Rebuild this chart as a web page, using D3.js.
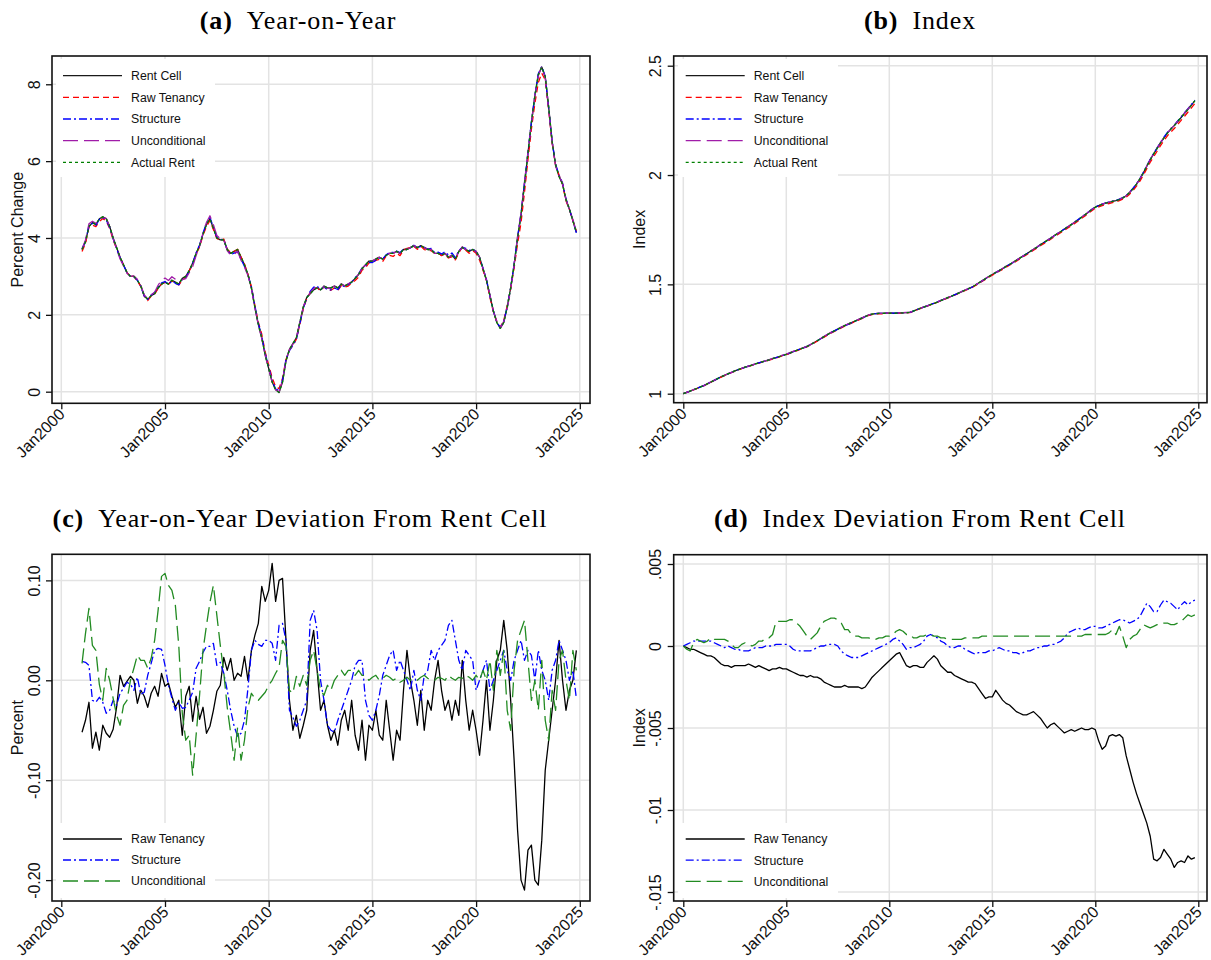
<!DOCTYPE html>
<html>
<head>
<meta charset="utf-8">
<script src="https://cdn.jsdelivr.net/npm/d3@7"></script>
<style>
  body { margin: 0; background: #fff; }
  svg { display: block; }
</style>
</head>
<body>
<div class="viewbox"></div>
<script>
// ---- data (one value every two months) ----
const yoyStart = 2001;   // Jan 2001
const idxStart = 2000;   // Jan 2000

// Rent Cell year-on-year, percent
const rentCellYoY = [
  3.70, 3.90, 4.30, 4.40, 4.35, 4.50,
  4.55, 4.50, 4.30, 4.00, 3.75, 3.50,
  3.30, 3.10, 3.00, 3.00, 2.90, 2.75,
  2.50, 2.40, 2.50, 2.55, 2.70, 2.80,
  2.85, 2.80, 2.90, 2.85, 2.80, 2.95,
  3.00, 3.15, 3.35, 3.60, 3.80, 4.10,
  4.35, 4.50, 4.25, 4.00, 3.95, 3.95,
  3.70, 3.60, 3.65, 3.70, 3.50, 3.30,
  3.05, 2.70, 2.20, 1.75, 1.40, 0.95,
  0.60, 0.25, 0.05, -0.02, 0.25, 0.80,
  1.10, 1.25, 1.40, 1.80, 2.20, 2.45,
  2.55, 2.65, 2.70, 2.65, 2.75, 2.70,
  2.70, 2.75, 2.70, 2.80, 2.75, 2.80,
  2.85, 2.95, 3.05, 3.20, 3.30, 3.40,
  3.40, 3.45, 3.50, 3.45, 3.55, 3.60,
  3.60, 3.65, 3.60, 3.70, 3.70, 3.75,
  3.80, 3.75, 3.80, 3.75, 3.70, 3.70,
  3.60, 3.60, 3.55, 3.60, 3.50, 3.55,
  3.45, 3.65, 3.75, 3.70, 3.65, 3.70,
  3.65, 3.50, 3.20, 2.90, 2.50, 2.10,
  1.80, 1.65, 1.80, 2.20, 2.70, 3.30,
  4.00, 4.60, 5.40, 6.20, 7.00, 7.70,
  8.25, 8.45, 8.20, 7.40, 6.50, 5.90,
  5.60, 5.40, 5.00, 4.75, 4.45, 4.15
];

// year-on-year deviation from Rent Cell, percentage points
const rawTenancyYoYDev = [
  -0.052, -0.040, -0.022, -0.068, -0.052, -0.070,
  -0.045, -0.053, -0.057, -0.049, -0.027, 0.005,
  -0.006, -0.001, 0.004, 0.000, -0.023, -0.010,
  -0.016, -0.027, -0.013, -0.006, -0.016, 0.007,
  -0.006, -0.003, -0.016, -0.027, -0.020, -0.055,
  -0.016, -0.006, -0.041, -0.016, -0.039, -0.027,
  -0.053, -0.046, -0.030, -0.011, -0.005, 0.023,
  0.010, 0.022, 0.000, 0.007, 0.004, 0.024,
  0.000, 0.030, 0.045, 0.057, 0.094, 0.079,
  0.090, 0.117, 0.079, 0.100, 0.102, 0.040,
  -0.020, -0.050, -0.035, -0.058, -0.045, -0.030,
  0.030, 0.050, 0.010, -0.030, -0.020, -0.045,
  -0.060, -0.050, -0.065, -0.040, -0.030, -0.050,
  -0.020, -0.055, -0.070, -0.040, -0.080, -0.045,
  -0.050, -0.030, -0.055, -0.060, -0.020, -0.050,
  -0.080, -0.050, -0.060, -0.010, 0.030, 0.000,
  -0.020, -0.045, -0.010, -0.050, -0.020, -0.030,
  0.000, 0.020, -0.010, -0.030, -0.020, -0.040,
  -0.020, -0.035, 0.020, -0.020, -0.050, -0.030,
  -0.050, -0.075, -0.040, 0.000, -0.050, -0.020,
  0.020, 0.030, 0.060, 0.030, -0.020, -0.080,
  -0.150, -0.200, -0.210, -0.170, -0.165, -0.200,
  -0.205, -0.160, -0.090, -0.060, -0.030, 0.000,
  0.040, 0.000, -0.030, -0.010, 0.000, 0.030
];
const structureYoYDev = [
  0.019, 0.018, 0.015, -0.020, -0.022, -0.017,
  -0.022, -0.033, -0.030, -0.020, -0.025, -0.013,
  -0.008, -0.002, -0.004, -0.010, 0.003, -0.014,
  -0.012, 0.005, 0.017, 0.030, 0.032, 0.031,
  0.015, -0.005, -0.018, -0.030, -0.022, -0.028,
  -0.027, -0.020, -0.012, 0.012, 0.019, 0.028,
  0.034, 0.034, 0.037, 0.015, 0.018, 0.007,
  -0.010, -0.030, -0.046, -0.056, -0.053, -0.040,
  -0.008, 0.030, 0.040, 0.036, 0.034, 0.040,
  0.040, 0.037, 0.020, 0.055, 0.057, 0.040,
  -0.030, -0.037, -0.046, -0.040, -0.030, -0.020,
  0.060, 0.070, 0.050, 0.000, -0.020, -0.045,
  -0.050, -0.052, -0.040, -0.030, -0.020, -0.010,
  0.000, 0.015, 0.020, 0.020, -0.020, -0.035,
  -0.040, -0.030, -0.015, 0.005, 0.015, 0.025,
  0.030, 0.010, 0.020, 0.010, 0.000, -0.010,
  0.010, -0.010, -0.020, 0.005, 0.010, 0.030,
  0.020, 0.030, 0.035, 0.040, 0.055, 0.060,
  0.040, 0.020, 0.010, 0.030, 0.025, 0.020,
  -0.010, 0.000, 0.010, 0.020, -0.010, 0.000,
  0.010, 0.020, 0.030, 0.010, 0.000, 0.020,
  0.030, 0.040, 0.020, 0.030, 0.025, 0.000,
  0.030, 0.010, 0.000, -0.020, 0.010, 0.020,
  0.040, 0.030, 0.020, 0.000, 0.010, -0.018
];
const unconditionalYoYDev = [
  0.017, 0.047, 0.072, 0.035, 0.030, -0.004,
  -0.020, 0.012, 0.000, -0.018, -0.035, -0.045,
  -0.025, -0.020, 0.000, 0.012, 0.025, 0.020,
  0.020, 0.012, 0.022, 0.040, 0.070, 0.104,
  0.107, 0.095, 0.090, 0.075, 0.034, -0.033,
  -0.060, -0.055, -0.095, -0.055, -0.015, 0.030,
  0.055, 0.078, 0.095, 0.065, 0.035, 0.008,
  -0.027, -0.053, -0.080, -0.047, -0.080, -0.060,
  -0.027, -0.013, -0.018, -0.020, -0.016, -0.012,
  -0.005, 0.000, 0.007, 0.013, 0.040, 0.034,
  -0.010, -0.013, 0.004, -0.006, 0.005, -0.005,
  0.020, 0.030, 0.010, -0.010, -0.015, -0.005,
  -0.010, 0.000, 0.005, 0.010, 0.005, 0.010,
  0.010, 0.005, 0.010, 0.005, 0.005, 0.000,
  0.003, 0.005, 0.000, 0.002, 0.005, 0.003,
  0.000, 0.002, -0.002, 0.000, 0.003, 0.000,
  0.002, 0.000, 0.003, 0.005, 0.002, 0.000,
  0.000, 0.003, 0.002, 0.000, 0.005, 0.002,
  0.000, 0.003, 0.002, 0.005, 0.003, 0.000,
  0.005, 0.000, 0.010, 0.000, 0.020, -0.010,
  0.030, 0.005, 0.030, -0.030, -0.050, 0.010,
  0.040, 0.050, 0.060, 0.020, -0.020, 0.000,
  -0.030, 0.020, -0.040, -0.060, -0.010, -0.030,
  0.020, 0.030, 0.000, -0.020, 0.030, 0.010
];

// Rent Cell index, Jan 2000 = 1
const rentCellIndex = [
  1.000, 1.006, 1.012, 1.018, 1.024, 1.031,
  1.037, 1.045, 1.053, 1.061, 1.069, 1.077,
  1.084, 1.091, 1.097, 1.104, 1.110, 1.116,
  1.121, 1.126, 1.131, 1.136, 1.141, 1.146,
  1.150, 1.155, 1.160, 1.165, 1.170, 1.175,
  1.180, 1.186, 1.192, 1.198, 1.204, 1.210,
  1.216, 1.224, 1.233, 1.242, 1.251, 1.261,
  1.270, 1.279, 1.287, 1.295, 1.303, 1.311,
  1.318, 1.325, 1.332, 1.339, 1.346, 1.353,
  1.360, 1.364, 1.366, 1.367, 1.367, 1.368,
  1.368, 1.368, 1.368, 1.369, 1.370, 1.371,
  1.372, 1.378, 1.384, 1.390, 1.396, 1.401,
  1.407, 1.413, 1.419, 1.426, 1.432, 1.439,
  1.445, 1.452, 1.459, 1.466, 1.473, 1.480,
  1.487, 1.496, 1.506, 1.516, 1.526, 1.536,
  1.545, 1.554, 1.563, 1.572, 1.582, 1.591,
  1.600, 1.610, 1.620, 1.630, 1.640, 1.650,
  1.660, 1.670, 1.681, 1.691, 1.701, 1.711,
  1.722, 1.732, 1.742, 1.753, 1.763, 1.773,
  1.784, 1.795, 1.807, 1.818, 1.830, 1.842,
  1.853, 1.860, 1.866, 1.871, 1.875, 1.879,
  1.883, 1.888, 1.895, 1.905, 1.920, 1.938,
  1.958, 1.982, 2.010, 2.040, 2.070, 2.097,
  2.122, 2.147, 2.170, 2.192, 2.210, 2.226,
  2.245, 2.263, 2.282, 2.301, 2.320, 2.340
];

// index deviation from Rent Cell
const rawTenancyIdxDev = [
  0.0000, -0.0001, -0.0002, -0.0002, -0.0003, -0.0004,
  -0.0005, -0.0006, -0.0006, -0.0007, -0.0009, -0.0011,
  -0.0012, -0.0012, -0.0013, -0.0012, -0.0012, -0.0012,
  -0.0012, -0.0011, -0.0012, -0.0013, -0.0012, -0.0013,
  -0.0014, -0.0015, -0.0014, -0.0014, -0.0013, -0.0014,
  -0.0014, -0.0015, -0.0016, -0.0017, -0.0018, -0.0018,
  -0.0019, -0.0018, -0.0019, -0.0019, -0.0020, -0.0022,
  -0.0023, -0.0024, -0.0025, -0.0025, -0.0025, -0.0024,
  -0.0025, -0.0025, -0.0025, -0.0025, -0.0026, -0.0025,
  -0.0022, -0.0019, -0.0017, -0.0015, -0.0013, -0.0011,
  -0.0009, -0.0007, -0.0005, -0.0004, -0.0008, -0.0012,
  -0.0013, -0.0012, -0.0012, -0.0013, -0.0013, -0.0010,
  -0.0008, -0.0006, -0.0008, -0.0012, -0.0014, -0.0016,
  -0.0016, -0.0018, -0.0019, -0.0020, -0.0021, -0.0022,
  -0.0022, -0.0023, -0.0026, -0.0029, -0.0032, -0.0031,
  -0.0031, -0.0027, -0.0030, -0.0033, -0.0035, -0.0036,
  -0.0038, -0.0040, -0.0041, -0.0042, -0.0042, -0.0041,
  -0.0040, -0.0042, -0.0044, -0.0047, -0.0050, -0.0048,
  -0.0047, -0.0049, -0.0051, -0.0053, -0.0052, -0.0051,
  -0.0052, -0.0051, -0.0050, -0.0051, -0.0051, -0.0050,
  -0.0051, -0.0058, -0.0063, -0.0061, -0.0055, -0.0054,
  -0.0055, -0.0054, -0.0056, -0.0067, -0.0075, -0.0083,
  -0.0090, -0.0096, -0.0102, -0.0108, -0.0116, -0.0130,
  -0.0131, -0.0129, -0.0124, -0.0127, -0.0130, -0.0135,
  -0.0132, -0.0131, -0.0132, -0.0128, -0.0130, -0.0129
];
const structureIdxDev = [
  0.0000, 0.0001, 0.0002, 0.0003, 0.0003, 0.0003,
  0.0003, 0.0003, 0.0003, 0.0002, 0.0001, 0.0000,
  -0.0001, 0.0000, -0.0001, -0.0002, -0.0002, -0.0003,
  -0.0003, -0.0003, -0.0002, -0.0001, -0.0001, -0.0001,
  0.0000, 0.0000, 0.0000, 0.0001, 0.0001, 0.0001,
  0.0001, 0.0000, -0.0002, -0.0003, -0.0003, -0.0003,
  -0.0003, -0.0003, -0.0002, -0.0001, 0.0000, 0.0000,
  0.0001, 0.0001, 0.0001, 0.0000, -0.0003, -0.0005,
  -0.0006, -0.0007, -0.0007, -0.0007, -0.0006, -0.0005,
  -0.0004, -0.0003, -0.0002, -0.0001, 0.0000, 0.0001,
  0.0002, 0.0004, 0.0005, 0.0003, 0.0001, -0.0002,
  -0.0001, -0.0001, 0.0000, 0.0001, 0.0003, 0.0006,
  0.0007, 0.0006, 0.0005, 0.0003, 0.0002, 0.0000,
  -0.0001, -0.0001, 0.0000, 0.0000, -0.0002, -0.0003,
  -0.0004, -0.0005, -0.0004, -0.0004, -0.0004, -0.0003,
  -0.0003, -0.0002, -0.0001, -0.0002, -0.0003, -0.0003,
  -0.0004, -0.0004, -0.0005, -0.0004, -0.0003, -0.0003,
  -0.0002, -0.0001, -0.0001, 0.0000, 0.0000, 0.0001,
  0.0001, 0.0002, 0.0003, 0.0005, 0.0008, 0.0009,
  0.0010, 0.0011, 0.0010, 0.0010, 0.0011, 0.0012,
  0.0012, 0.0011, 0.0011, 0.0012, 0.0013, 0.0014,
  0.0015, 0.0016, 0.0016, 0.0015, 0.0014, 0.0015,
  0.0016, 0.0018, 0.0022, 0.0026, 0.0024, 0.0021,
  0.0021, 0.0025, 0.0028, 0.0027, 0.0026, 0.0024,
  0.0022, 0.0025, 0.0027, 0.0025, 0.0027, 0.0028
];
const unconditionalIdxDev = [
  0.0000, -0.0002, -0.0003, 0.0002, 0.0004, 0.0003,
  0.0002, 0.0003, 0.0005, 0.0004, 0.0004, 0.0004,
  0.0004, 0.0003, 0.0001, -0.0001, -0.0001, 0.0001,
  0.0002, 0.0001, 0.0000, 0.0001, 0.0003, 0.0003,
  0.0005, 0.0005, 0.0007, 0.0015, 0.0015, 0.0015,
  0.0015, 0.0016, 0.0016, 0.0014, 0.0012, 0.0009,
  0.0006, 0.0004, 0.0006, 0.0008, 0.0012, 0.0015,
  0.0016, 0.0017, 0.0017, 0.0016, 0.0014, 0.0010,
  0.0010, 0.0007, 0.0006, 0.0006, 0.0005, 0.0005,
  0.0005, 0.0004, 0.0004, 0.0005, 0.0005, 0.0006,
  0.0006, 0.0007, 0.0009, 0.0010, 0.0009, 0.0007,
  0.0007, 0.0005, 0.0005, 0.0006, 0.0006, 0.0007,
  0.0007, 0.0006, 0.0006, 0.0005, 0.0005, 0.0004,
  0.0004, 0.0004, 0.0004, 0.0004, 0.0005, 0.0005,
  0.0005, 0.0005, 0.0005, 0.0006, 0.0006, 0.0006,
  0.0006, 0.0006, 0.0006, 0.0006, 0.0006, 0.0006,
  0.0006, 0.0006, 0.0006, 0.0006, 0.0006, 0.0006,
  0.0006, 0.0006, 0.0006, 0.0006, 0.0006, 0.0006,
  0.0006, 0.0006, 0.0006, 0.0006, 0.0006, 0.0006,
  0.0006, 0.0006, 0.0006, 0.0007, 0.0007, 0.0007,
  0.0007, 0.0007, 0.0007, 0.0007, 0.0008, 0.0010,
  0.0007, 0.0012, 0.0006, -0.0001, 0.0004, 0.0006,
  0.0007, 0.0010, 0.0013, 0.0012, 0.0011, 0.0012,
  0.0013, 0.0013, 0.0014, 0.0014, 0.0013, 0.0013,
  0.0014, 0.0015, 0.0017, 0.0019, 0.0018, 0.0019
];

// tick values
const xTicks = [2000, 2005, 2010, 2015, 2020, 2025];
const yTicksA = [0, 2, 4, 6, 8];
const yTicksB = [1, 1.5, 2, 2.5];
const yTicksC = [-0.2, -0.1, 0, 0.1];
const yTicksD = [-0.015, -0.01, -0.005, 0, 0.005];

// ---- helpers ----
const toPoints = (arr, start) => arr.map((v, i) => ({ t: start + i / 6, v: v }));
const addDev = (base, dev) => base.map((v, i) => v + dev[i]);

const STYLE = {
  rent:   { color: "#1a1a1a", dash: null },
  raw:    { color: "#ff0000", dash: "6,4" },
  struct: { color: "#0000ff", dash: "8,3,2,3" },
  uncond: { color: "#a01ca8", dash: "15,6" },
  actual: { color: "#008000", dash: "3,3" },
  rawDev: { color: "#000000", dash: null },
  uncDev: { color: "#228b22", dash: "15,6" }
};

const svg = d3.select(".viewbox")
  .append("svg")
  .attr("width", 1211)
  .attr("height", 960);

const fmtNum = {
  a: d => d3.format("d")(d),
  b: d => String(d),
  c: d => d3.format(".2f")(d).replace("−", "-"),
  d: d => d === 0 ? "0" : String(d).replace("0.", ".")
};

function drawPanel(p) {
  const x = d3.scaleLinear()
    .domain([2000 - (p.x2000 - p.left) / p.pxYear, 2000 + (p.right - p.x2000) / p.pxYear])
    .range([p.left, p.right]);
  const y = d3.scaleLinear()
    .domain([p.yBottom, p.yTop])
    .range([p.bottom, p.top]);

  const g = svg.append("g");

  // grid
  g.selectAll("line.hgrid")
    .data(p.yTicks)
    .enter().append("line")
    .attr("x1", p.left).attr("x2", p.right)
    .attr("y1", d => y(d)).attr("y2", d => y(d))
    .attr("stroke", "#e3e3e3").attr("stroke-width", 1.5);
  g.selectAll("line.vgrid")
    .data(xTicks)
    .enter().append("line")
    .attr("x1", d => x(d)).attr("x2", d => x(d))
    .attr("y1", p.top).attr("y2", p.bottom)
    .attr("stroke", "#e3e3e3").attr("stroke-width", 1.5);

  // legend box sits on top of the grid
  g.append("rect")
    .attr("x", p.legend.box[0]).attr("y", p.legend.box[1])
    .attr("width", p.legend.box[2]).attr("height", p.legend.box[3])
    .attr("fill", "#fff");

  // series
  const line = d3.line().x(d => x(d.t)).y(d => y(d.v));
  p.series.forEach(s => {
    g.append("path")
      .datum(s.points)
      .attr("d", line)
      .attr("fill", "none")
      .attr("stroke", s.style.color)
      .attr("stroke-width", 1.3)
      .attr("stroke-dasharray", s.style.dash)
      .attr("stroke-linejoin", "round");
  });

  // legend entries
  p.series.forEach((s, i) => {
    const ly = p.legend.y0 + i * p.legend.step;
    g.append("line")
      .attr("x1", p.legend.x0).attr("x2", p.legend.x0 + 59)
      .attr("y1", ly).attr("y2", ly)
      .attr("stroke", s.style.color)
      .attr("stroke-width", 1.3)
      .attr("stroke-dasharray", s.style.dash);
    g.append("text")
      .attr("x", p.legend.x0 + 68).attr("y", ly + 4.4)
      .attr("font-family", "Liberation Sans, Arial, sans-serif")
      .attr("font-size", 12.3)
      .attr("fill", "#111")
      .text(s.name);
  });

  // frame
  g.append("rect")
    .attr("x", p.left).attr("y", p.top)
    .attr("width", p.right - p.left).attr("height", p.bottom - p.top)
    .attr("fill", "none").attr("stroke", "#111").attr("stroke-width", 1.6);

  // y axis
  const yAxis = g.append("g")
    .attr("transform", `translate(${p.left},0)`)
    .call(d3.axisLeft(y).tickValues(p.yTicks).tickSize(6).tickFormat(p.yFmt));
  yAxis.select(".domain").remove();
  yAxis.selectAll(".tick line").attr("stroke", "#111").attr("stroke-width", 1.3);
  yAxis.selectAll(".tick text")
    .attr("transform", "rotate(-90)")
    .attr("x", 0).attr("y", -12.5).attr("dy", 0)
    .style("text-anchor", "middle")
    .attr("font-family", "Liberation Sans, Arial, sans-serif")
    .attr("font-size", 16)
    .attr("fill", "#111");

  // x axis
  const xAxis = g.append("g")
    .attr("transform", `translate(0,${p.bottom})`)
    .call(d3.axisBottom(x).tickValues(xTicks).tickSize(6).tickFormat(d => "Jan" + d));
  xAxis.select(".domain").remove();
  xAxis.selectAll(".tick line").attr("stroke", "#111").attr("stroke-width", 1.3);
  xAxis.selectAll(".tick text")
    .attr("x", 0).attr("y", 0).attr("dy", 0)
    .attr("transform", "translate(4,12) rotate(-45)")
    .style("text-anchor", "end")
    .attr("font-family", "Liberation Sans, Arial, sans-serif")
    .attr("font-size", 16)
    .attr("fill", "#111");

  // y title
  g.append("text")
    .attr("transform", `translate(${p.left - 29},${(p.top + p.bottom) / 2}) rotate(-90)`)
    .attr("text-anchor", "middle")
    .attr("font-family", "Liberation Sans, Arial, sans-serif")
    .attr("font-size", 16)
    .attr("fill", "#111")
    .text(p.yTitle);

  // panel title
  const t = svg.append("text")
    .attr("x", p.titleX).attr("y", p.titleY)
    .attr("text-anchor", "middle")
    .attr("font-family", "Liberation Serif, Times New Roman, serif")
    .attr("font-size", 26)
    .attr("letter-spacing", 0.9)
    .attr("fill", "#000");
  t.append("tspan").attr("font-weight", "bold").text(p.tag);
  t.append("tspan").attr("dx", 14).text(p.title);
}

// ---- panels ----
const rentYoYPts = toPoints(rentCellYoY, yoyStart);
const rentIdxPts = toPoints(rentCellIndex, idxStart);

drawPanel({
  tag: "(a)", title: "Year-on-Year", titleX: 298, titleY: 29,
  left: 52, right: 590, top: 56, bottom: 403.3, x2000: 61.3, pxYear: 20.74,
  yBottom: -0.302, yTop: 8.736, yTicks: yTicksA, yFmt: fmtNum.a, yTitle: "Percent Change",
  legend: { box: [56, 59, 159, 118], x0: 63, y0: 75.7, step: 21.65 },
  series: [
    { name: "Rent Cell", style: STYLE.rent, points: rentYoYPts },
    { name: "Raw Tenancy", style: STYLE.raw, points: toPoints(addDev(rentCellYoY, rawTenancyYoYDev), yoyStart) },
    { name: "Structure", style: STYLE.struct, points: toPoints(addDev(rentCellYoY, structureYoYDev), yoyStart) },
    { name: "Unconditional", style: STYLE.uncond, points: toPoints(addDev(rentCellYoY, unconditionalYoYDev), yoyStart) },
    { name: "Actual Rent", style: STYLE.actual, points: rentYoYPts }
  ]
});

drawPanel({
  tag: "(b)", title: "Index", titleX: 920, titleY: 29,
  left: 673.7, right: 1207, top: 56, bottom: 402.7, x2000: 683.3, pxYear: 20.6,
  yBottom: 0.9588, yTop: 2.5444, yTicks: yTicksB, yFmt: fmtNum.b, yTitle: "Index",
  legend: { box: [678, 59, 160, 118], x0: 685.7, y0: 75.7, step: 21.65 },
  series: [
    { name: "Rent Cell", style: STYLE.rent, points: rentIdxPts },
    { name: "Raw Tenancy", style: STYLE.raw, points: toPoints(addDev(rentCellIndex, rawTenancyIdxDev), idxStart) },
    { name: "Structure", style: STYLE.struct, points: toPoints(addDev(rentCellIndex, structureIdxDev), idxStart) },
    { name: "Unconditional", style: STYLE.uncond, points: toPoints(addDev(rentCellIndex, unconditionalIdxDev), idxStart) },
    { name: "Actual Rent", style: STYLE.actual, points: rentIdxPts }
  ]
});

drawPanel({
  tag: "(c)", title: "Year-on-Year Deviation From Rent Cell", titleX: 300, titleY: 527,
  left: 52, right: 590, top: 554.3, bottom: 901, x2000: 61.3, pxYear: 20.74,
  yBottom: -0.2209, yTop: 0.1261, yTicks: yTicksC, yFmt: fmtNum.c, yTitle: "Percent",
  legend: { box: [56, 823, 159, 75], x0: 63, y0: 839, step: 21 },
  series: [
    { name: "Raw Tenancy", style: STYLE.rawDev, points: toPoints(rawTenancyYoYDev, yoyStart) },
    { name: "Structure", style: STYLE.struct, points: toPoints(structureYoYDev, yoyStart) },
    { name: "Unconditional", style: STYLE.uncDev, points: toPoints(unconditionalYoYDev, yoyStart) }
  ]
});

drawPanel({
  tag: "(d)", title: "Index Deviation From Rent Cell", titleX: 920, titleY: 527,
  left: 673.7, right: 1207, top: 554.7, bottom: 901, x2000: 683.3, pxYear: 20.6,
  yBottom: -0.015549, yTop: 0.005567, yTicks: yTicksD, yFmt: fmtNum.d, yTitle: "Index",
  legend: { box: [678, 823, 160, 75], x0: 685.7, y0: 839, step: 21.2 },
  series: [
    { name: "Raw Tenancy", style: STYLE.rawDev, points: toPoints(rawTenancyIdxDev, idxStart) },
    { name: "Structure", style: STYLE.struct, points: toPoints(structureIdxDev, idxStart) },
    { name: "Unconditional", style: STYLE.uncDev, points: toPoints(unconditionalIdxDev, idxStart) }
  ]
});
</script>
</body>
</html>
